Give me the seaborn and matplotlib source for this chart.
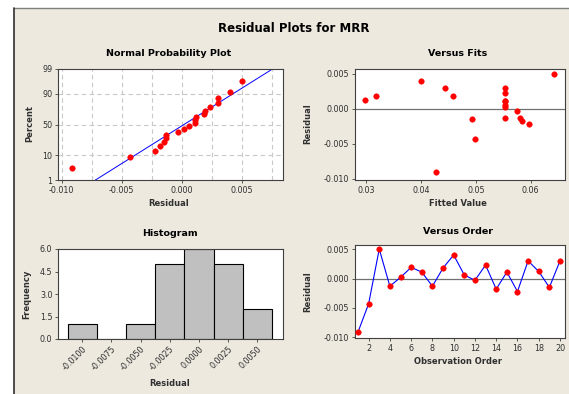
import numpy as np
import pandas as pd
import matplotlib.pyplot as plt
import seaborn as sns
from matplotlib.patches import Rectangle
from matplotlib.lines import Line2D
from statistics import NormalDist

# ===============================
# Data
# ===============================
observation = list(range(1, 21))
residual = [-0.0091, -0.0043, 0.0050, -0.0013, 0.0002, 0.0019, 0.0011, -0.0013, 0.0018, 0.0040,
            0.0006, -0.0003, 0.0023, -0.0018, 0.0011, -0.0022, 0.0030, 0.0012, -0.0015, 0.0030]
fitted = [0.0427, 0.0498, 0.0642, 0.0581, 0.0554, 0.0458, 0.0554, 0.0554, 0.0318, 0.0399,
          0.0554, 0.0576, 0.0554, 0.0585, 0.0554, 0.0597, 0.0444, 0.0298, 0.0493, 0.0554]
prob_ticks = [1, 10, 50, 90, 99]
hist_edges = [-0.01125, -0.00875, -0.00625, -0.00375, -0.00125, 0.00125, 0.00375, 0.00625]
hist_ticks = [-0.0100, -0.0075, -0.0050, -0.0025, 0.0000, 0.0025, 0.0050]

df = pd.DataFrame({"obs": observation, "resid": residual, "fit": fitted})

# normal scores with Minitab median ranks
nd = NormalDist()
n = len(df)
sorted_res = np.sort(df["resid"].values)
pct = (np.arange(1, n + 1) - 0.3) / (n + 0.4)
zscore = [nd.inv_cdf(p) for p in pct]
mu, sd = df["resid"].mean(), df["resid"].std()
line_z = [nd.inv_cdf(0.001), nd.inv_cdf(0.999)]
line_x = [mu + z * sd for z in line_z]

# ===============================
# Style
# ===============================
sns.set_style("white")
plt.rcParams["font.family"] = ["DejaVu Sans"]
plt.rcParams["axes.unicode_minus"] = False

W, H = 569, 394
BG = "#EDE9DF"
TXT = "#303030"
fig = plt.figure(figsize=(W / 100, H / 100), dpi=100)
fig.patch.set_facecolor("white")
fig.patches.append(Rectangle((14 / W, 0), 1 - 14 / W, 1 - 8 / H, transform=fig.transFigure,
                             facecolor=BG, edgecolor="none", zorder=-10))
fig.lines.append(Line2D([14 / W, 1], [1 - 8 / H] * 2, transform=fig.transFigure, color="#808080", lw=1))
fig.lines.append(Line2D([14 / W] * 2, [0, 1 - 8 / H], transform=fig.transFigure, color="#303030", lw=1.2))


def px_axes(l, t, r, b):
    ax = fig.add_axes([l / W, 1 - b / H, (r - l) / W, (b - t) / H])
    ax.set_facecolor("white")
    for s in ax.spines.values():
        s.set_color("#404040")
        s.set_linewidth(0.8)
    ax.tick_params(axis="both", which="both", length=2.5, width=0.6, color="#404040",
                   labelsize=5.8, labelcolor=TXT, pad=1.5, direction="out", bottom=True, left=True)
    return ax


def labels(ax, title, tx, ty, xlabel, xx, xy, ylabel, yx, yy):
    fig.text(tx / W, 1 - ty / H, title, ha="center", va="center", fontsize=6.8, fontweight="bold", color="black")
    ax.set_xlabel(xlabel, fontsize=6, fontweight="bold", color=TXT, va="center")
    ax.xaxis.set_label_coords(xx / W, 1 - xy / H, transform=fig.transFigure)
    ax.set_ylabel(ylabel, fontsize=6, fontweight="bold", color=TXT, va="center")
    ax.yaxis.set_label_coords(yx / W, 1 - yy / H, transform=fig.transFigure)


fig.text(294 / W, 1 - 28 / H, "Residual Plots for MRR", ha="center", va="center",
         fontsize=8.5, fontweight="bold", color="black")

# ===============================
# Normal probability plot
# ===============================
ax1 = px_axes(58, 69, 283, 180)
for xv in np.arange(-0.01, 0.0076, 0.0025):
    ax1.axvline(xv, color="#c8c8c8", lw=0.8, ls=(0, (4, 3)), zorder=0)
for pv in prob_ticks[1:-1]:
    ax1.axhline(nd.inv_cdf(pv / 100), color="#c8c8c8", lw=0.8, ls=(0, (4, 3)), zorder=0)
sns.lineplot(x=line_x, y=line_z, ax=ax1, color="blue", lw=0.7)
sns.scatterplot(x=sorted_res, y=zscore, ax=ax1, color="red", edgecolor="red", s=16, zorder=3)
ax1.set_xlim(-0.0103, 0.0084)
ax1.set_ylim(nd.inv_cdf(0.01), nd.inv_cdf(0.99))
ax1.set_yticks([nd.inv_cdf(p / 100) for p in prob_ticks])
ax1.set_yticklabels([str(p) for p in prob_ticks])
ax1.set_xticks([-0.010, -0.005, 0.000, 0.005])
ax1.set_xticklabels(["-0.010", "-0.005", "0.000", "0.005"])
labels(ax1, "Normal Probability Plot", 169, 53, "Residual", 169, 204, "Percent", 30, 124)

# ===============================
# Versus fits
# ===============================
ax2 = px_axes(355, 69, 565, 180)
ax2.axhline(0, color="#707070", lw=0.9, zorder=1)
sns.scatterplot(data=df, x="fit", y="resid", ax=ax2, color="red", edgecolor="red", s=16, zorder=3)
ax2.set_xlim(0.0279, 0.0663)
ax2.set_ylim(-0.0102, 0.0057)
ax2.set_xticks([0.03, 0.04, 0.05, 0.06])
ax2.set_xticklabels(["0.03", "0.04", "0.05", "0.06"])
ax2.set_yticks([0.005, 0.0, -0.005, -0.010])
ax2.set_yticklabels(["0.005", "0.000", "-0.005", "-0.010"])
labels(ax2, "Versus Fits", 458, 53, "Fitted Value", 458, 204, "Residual", 308, 124)

# ===============================
# Histogram
# ===============================
ax3 = px_axes(58, 249, 283, 339)
sns.histplot(data=df, x="resid", bins=hist_edges, ax=ax3, color="#c0c0c0", edgecolor="black",
             linewidth=0.8, alpha=1)
ax3.set_xlim(-0.01207, 0.00719)
ax3.set_ylim(0, 6)
ax3.set_yticks([0, 1.5, 3.0, 4.5, 6.0])
ax3.set_yticklabels(["0.0", "1.5", "3.0", "4.5", "6.0"])
ax3.set_xticks(hist_ticks)
ax3.set_xticklabels([f"{t:.4f}" for t in hist_ticks], rotation=45, ha="right", rotation_mode="anchor")
labels(ax3, "Histogram", 170, 233, "Residual", 170, 384, "Frequency", 27, 294)

# ===============================
# Versus order
# ===============================
ax4 = px_axes(355, 245, 565, 338)
ax4.axhline(0, color="#707070", lw=0.9, zorder=1)
sns.lineplot(data=df, x="obs", y="resid", ax=ax4, color="blue", lw=0.8)
sns.scatterplot(data=df, x="obs", y="resid", ax=ax4, color="red", edgecolor="red", s=16, zorder=3)
ax4.set_xlim(0.72, 20.47)
ax4.set_ylim(-0.0101, 0.0057)
ax4.set_xticks(range(2, 21, 2))
ax4.set_yticks([0.005, 0.0, -0.005, -0.010])
ax4.set_yticklabels(["0.005", "0.000", "-0.005", "-0.010"])
labels(ax4, "Versus Order", 458, 232, "Observation Order", 458, 362, "Residual", 308, 292)

fig.savefig("out.png", dpi=100, facecolor=fig.get_facecolor())
